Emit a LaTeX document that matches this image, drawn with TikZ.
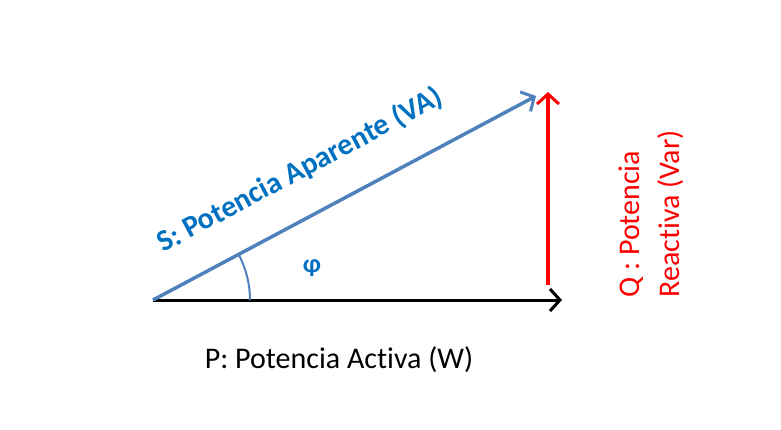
\documentclass[tikz,border=0pt]{standalone}
\usepackage{fontspec}
\setmainfont{Carlito}[Ligatures=NoCommon]
\usetikzlibrary{arrows.meta}
\definecolor{sblue}{RGB}{79,129,189}
\definecolor{tblue}{RGB}{0,112,192}
\definecolor{qred}{RGB}{255,0,0}

\begin{document}
\begin{tikzpicture}[x=1pt,y=-1pt,
  vec/.style={line width=3.5pt,-{Straight Barb[length=10pt,width=22pt,line width=3pt]}},
  lbl/.style={font=\fontsize{30}{40}\selectfont}]
\useasboundingbox (0,0) rectangle (781,430);
\coordinate (O) at (153,300);
\coordinate (Pend) at (562,300);
\coordinate (Send) at (536,96);
\coordinate (Qs) at (548,285);
\coordinate (Qe) at (548,92);

\draw[vec,black,line width=3pt] (O) -- (Pend);
\draw[vec,sblue] (O) -- (Send)
  node[pos=0.44,above=27pt,sloped,text=tblue,font=\fontsize{30}{36}\bfseries] (s) {S: Potencia Aparente (VA)};
\draw[vec,qred] (Qs) -- (Qe);
\draw[sblue,line width=2pt] (O) ++(97,0) arc[start angle=0,end angle=-28.1,radius=97];

\node[text=tblue,font=\fontsize{26}{30}\bfseries] (phi) at (312,268) {φ};
\node[lbl] (p) at (339,360) {P: Potencia Activa (W)};
\node[lbl,text=qred,rotate=90,align=left] (q) at (651,214) {Q : Potencia\\Reactiva (Var)};
\end{tikzpicture}
\end{document}
